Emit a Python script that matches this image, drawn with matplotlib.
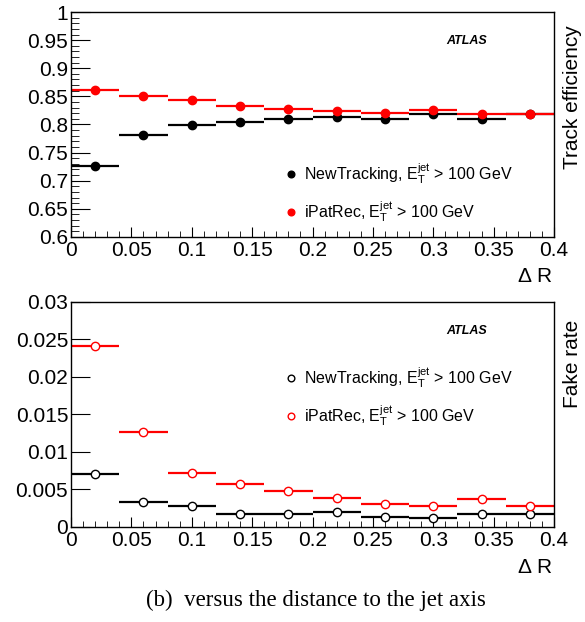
import numpy as np
import matplotlib
matplotlib.use("Agg")
import matplotlib.pyplot as plt
from matplotlib.ticker import MultipleLocator, FormatStrFormatter

plt.rcParams['font.family'] = ['Liberation Sans', 'DejaVu Sans']
plt.rcParams['mathtext.fontset'] = 'custom'
plt.rcParams['mathtext.rm'] = 'Liberation Sans'
plt.rcParams['mathtext.it'] = 'Liberation Sans'

# bin centres in delta R, half width 0.02
dr = [0.02, 0.06, 0.10, 0.14, 0.18, 0.22, 0.26, 0.30, 0.34, 0.38]
bin_half = 0.02

eff_newtracking = [0.726, 0.781, 0.799, 0.804, 0.810, 0.813, 0.810, 0.818, 0.810, 0.819]
eff_ipatrec = [0.861, 0.851, 0.844, 0.833, 0.828, 0.824, 0.821, 0.826, 0.819, 0.819]

fake_newtracking = [0.00707, 0.00333, 0.00276, 0.00170, 0.00168, 0.00196, 0.00125, 0.00121, 0.00173, 0.00173]
fake_ipatrec = [0.0241, 0.01267, 0.00716, 0.00565, 0.00476, 0.00378, 0.00307, 0.00276, 0.00365, 0.00276]

lab_new = r"NewTracking, $\mathregular{E_T^{jet}}$ > 100 GeV"
lab_ipat = r"iPatRec, $\mathregular{E_T^{jet}}$ > 100 GeV"

fig = plt.figure(figsize=(5.85, 6.22), dpi=100)
ax1 = fig.add_axes([0.1214, 0.619, 0.8256, 0.3617])
ax2 = fig.add_axes([0.1214, 0.1532, 0.8256, 0.3617])


def style_axis(ax, ymajor, yminor):
    ax.set_xlim(0, 0.4)
    ax.xaxis.set_major_locator(MultipleLocator(0.05))
    ax.xaxis.set_minor_locator(MultipleLocator(0.01))
    ax.yaxis.set_major_locator(MultipleLocator(ymajor))
    if yminor:
        ax.yaxis.set_minor_locator(MultipleLocator(yminor))
    ax.xaxis.set_major_formatter(FormatStrFormatter('%g'))
    ax.yaxis.set_major_formatter(FormatStrFormatter('%g'))
    ax.tick_params(which='both', direction='in', top=False, right=False, labelsize=15)
    ax.tick_params(axis='x', which='major', length=7, pad=3)
    ax.tick_params(axis='x', which='minor', length=4)
    ax.tick_params(axis='y', which='major', length=14, pad=2)
    ax.tick_params(axis='y', which='minor', length=6)
    for s in ax.spines.values():
        s.set_linewidth(1.0)


def add_legend(ax, handles, y):
    ax.legend(handles=handles, labels=[lab_new, lab_ipat], loc='upper left',
              bbox_to_anchor=(0.41, y), frameon=False, fontsize=11.5,
              handletextpad=0.3, handlelength=1.0, labelspacing=0.8, markerscale=0.8)


# efficiency
e1 = ax1.errorbar(dr, eff_newtracking, xerr=bin_half, fmt='o', color='black', ms=6,
                  elinewidth=1.6, capsize=0)
e2 = ax1.errorbar(dr, eff_ipatrec, xerr=bin_half, fmt='o', color='red', ms=6,
                  elinewidth=1.6, capsize=0)
ax1.set_ylim(0.6, 1.0)
style_axis(ax1, 0.05, 0.01)
ax1.text(0.82, 0.87, "ATLAS", transform=ax1.transAxes, fontsize=9, fontweight='bold',
         fontstyle='italic', ha='center', va='center')
add_legend(ax1, [e1[0], e2[0]], 0.4)
fig.text(0.978, 0.96, "Track efficiency", rotation=90, fontsize=15, ha='center', va='top')
fig.text(0.945, 0.556, r"$\Delta$ R", fontsize=15, ha='right', va='center')

# fake rate
f1 = ax2.errorbar(dr, fake_newtracking, xerr=bin_half, fmt='o', color='black', mfc='white',
                  ms=6, elinewidth=1.6, capsize=0)
f2 = ax2.errorbar(dr, fake_ipatrec, xerr=bin_half, fmt='o', color='red', mfc='white',
                  ms=6, elinewidth=1.6, capsize=0)
ax2.set_ylim(0, 0.03)
style_axis(ax2, 0.005, None)
ax2.text(0.82, 0.87, "ATLAS", transform=ax2.transAxes, fontsize=9, fontweight='bold',
         fontstyle='italic', ha='center', va='center')
add_legend(ax2, [f1[0], f2[0]], 0.78)
fig.text(0.978, 0.415, "Fake rate", rotation=90, fontsize=15, ha='center', va='center')
fig.text(0.945, 0.087, r"$\Delta$ R", fontsize=15, ha='right', va='center')

fig.text(0.54, 0.035, "(b)  versus the distance to the jet axis", fontsize=16.5,
         family=['Liberation Serif', 'DejaVu Serif'], ha='center', va='center')

fig.savefig("out.png", dpi=100)
